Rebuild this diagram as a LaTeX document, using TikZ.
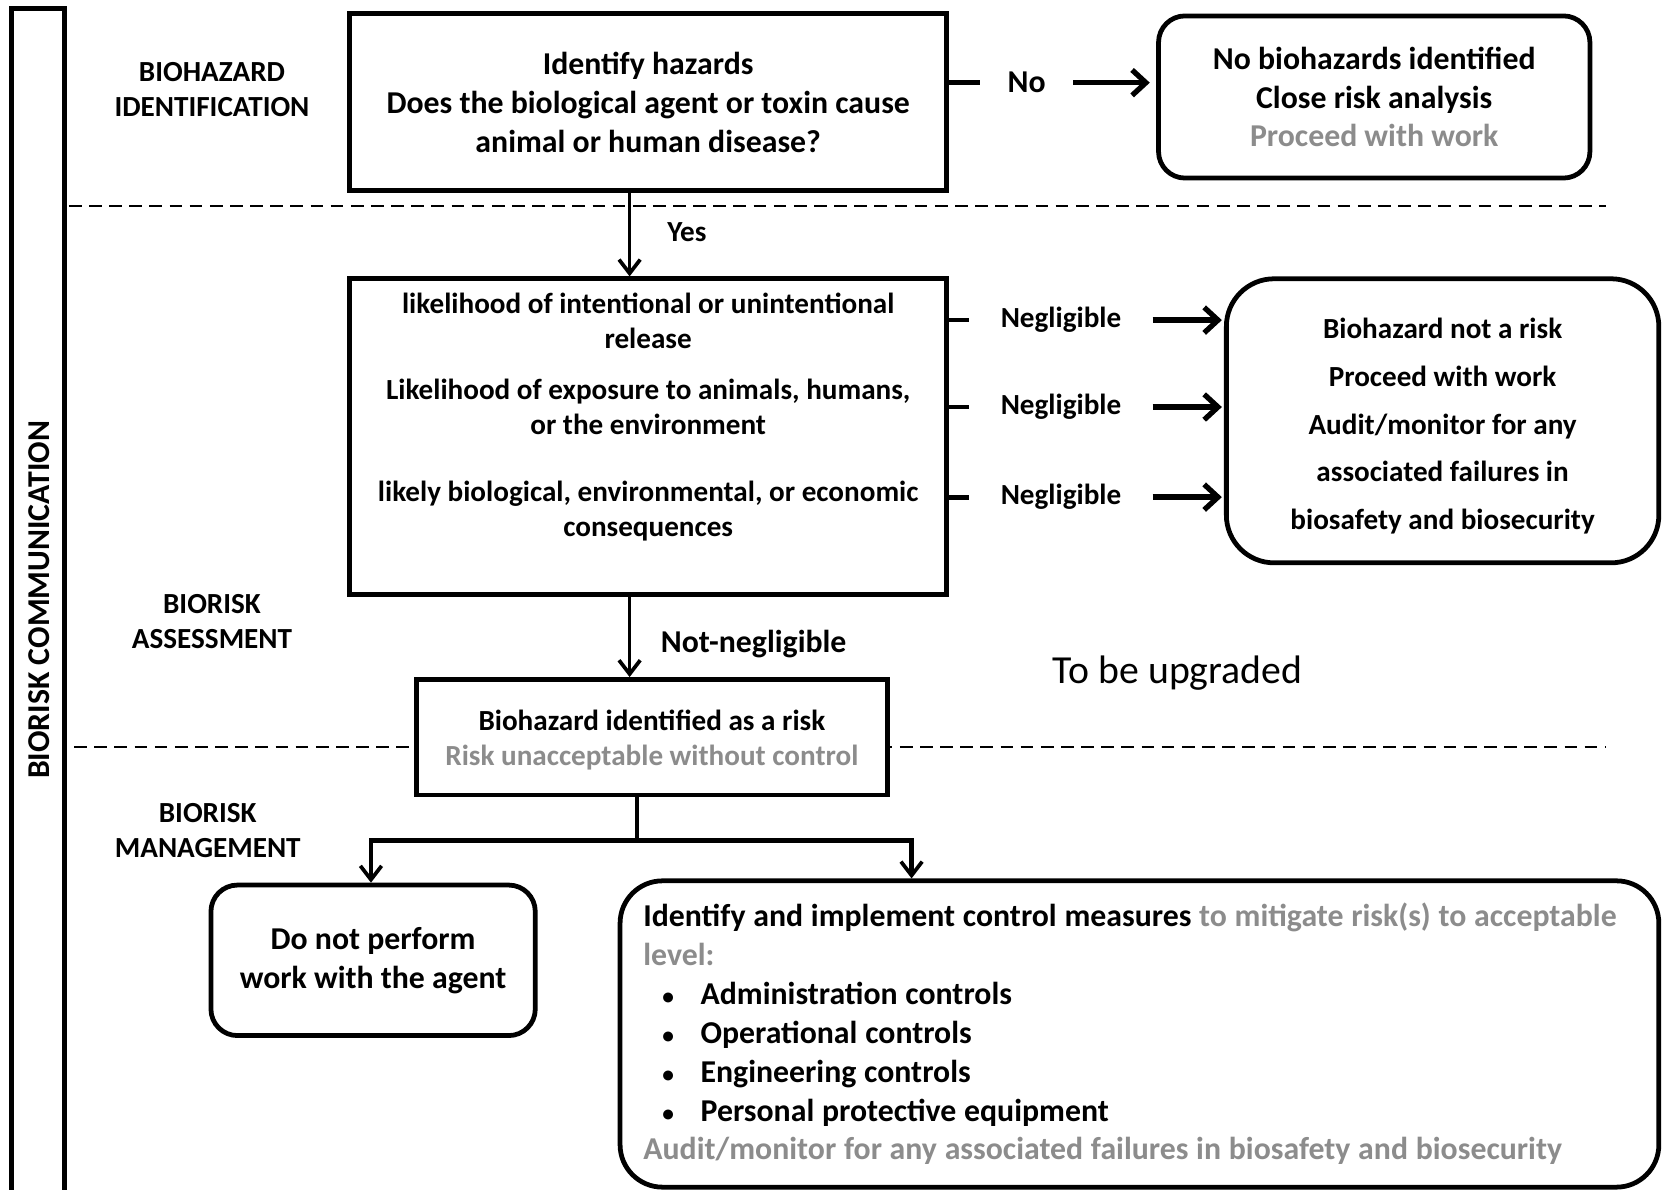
\documentclass[tikz,border=0pt]{standalone}
\usepackage{fontspec}
\setmainfont{Carlito}
\usepackage{xcolor}
\usetikzlibrary{arrows.meta,positioning}
\definecolor{dimgrey}{HTML}{8C8C8C}
\newcommand\txtbig{\fontsize{30}{36.7}\selectfont\bfseries}
\newcommand\txtmid{\fontsize{27.5}{33}\selectfont\bfseries}
\newcommand\dotitem{\hspace*{18pt}\makebox[36pt][l]{\fontsize{22}{22}\selectfont•}}

\begin{document}
\begin{tikzpicture}[x=1pt,y=-1pt,>={Straight Barb[length=13pt,width=20pt,line width=3.5pt]}]
\tikzset{sqbox/.style={draw,line width=4.5pt,fill=white,align=center,inner sep=0pt},
  rbox/.style={sqbox,rounded corners=#1},rbox/.default=25pt,
  section/.style={align=center,font=\txtmid},
  tag/.style={font=\txtmid,inner ysep=0pt},
  flow/.style={line width=3.5pt,->},
  sideflow/.style={line width=5pt,-{Straight Barb[length=13pt,width=24pt,line width=5pt]}},
  stub/.style={line width=4.5pt},
  sep/.style={line width=2pt,dash pattern=on 12pt off 7pt}}
\useasboundingbox (0,0) rectangle (1568,1122);
% stage separators
\draw[sep] (65,194) -- (1515,194);
\draw[sep] (70,705) -- (1515,705);
% communication bar
\node[draw,line width=4.5pt,minimum width=50pt,minimum height=1126pt,inner sep=0pt] (bar) at (36,571) {};
\node[rotate=90,font=\txtbig] (comm) at (37,566) {BIORISK COMMUNICATION};
\node[section] (idlbl) at (200,84.5) {BIOHAZARD\\IDENTIFICATION};
\node[section] (aslbl) at (200,586) {BIORISK\\ASSESSMENT};
\node[section] (mglbl) at (196,784) {BIORISK\\MANAGEMENT};
% identification
\node[sqbox,minimum width=563pt,minimum height=167pt,font=\txtbig] (hazard) at (611.5,96.5)
  {Identify hazards\\Does the biological agent or toxin cause\\animal or human disease?};
\node[rbox,minimum width=407pt,minimum height=153pt,font=\txtbig] (nobio) at (1296.5,91.5)
  {No biohazards identified\\Close risk analysis\\\textcolor{dimgrey}{Proceed with work}};
\node[font=\txtbig,inner xsep=26pt,inner ysep=0pt] (nolbl) at (968.5,78) {No};
\draw[stub] (hazard.east |- nolbl) -- (nolbl.west);
\draw[sideflow,shorten >=6pt] (nolbl.east) -- (nobio.west |- nolbl);
% assessment
\node[sqbox,minimum width=563pt,minimum height=298pt] (assess) at (611.5,412) {};
\node[font=\txtmid,align=center,anchor=north,inner sep=0pt] (assesstxt) at (611.5,276.5)
  {likelihood of intentional or unintentional\\release\\[15pt]Likelihood of exposure to animals, humans,\\or the environment\\[30pt]likely biological, environmental, or economic\\consequences};
\draw[flow] ([xshift=-17.5pt]hazard.south) -- ([xshift=-17.5pt]assess.north);
\node[tag] (yes) at (648,219) {Yes};
\node[rbox=45pt,minimum width=408pt,minimum height=268pt] (notrisk) at (1361,397) {};
\node[font=\fontsize{27.5}{45}\selectfont\bfseries,align=center,inner sep=0pt] (notrisktxt) at (1361,402)
  {Biohazard not a risk\\Proceed with work\\Audit/monitor for any\\associated failures in\\biosafety and biosecurity};
\foreach \yy/\nm in {302/negA,384/negB,469/negC} {
  \node[tag,inner xsep=29.5pt] (\nm) at (1001,\yy) {Negligible};
  \draw[stub] (assess.east |- \nm) -- (\nm.west);
  \draw[sideflow,shorten >=2pt] (\nm.east) -- (notrisk.west |- \nm);
}
\node[sqbox,minimum width=444pt,minimum height=109pt] (identrisk) at (615,695.5) {};
\node[font=\txtmid,align=center,inner sep=0pt] (identrisktxt) at (615,698.5)
  {Biohazard identified as a risk\\\textcolor{dimgrey}{Risk unacceptable without control}};
\draw[flow] ([xshift=-17.5pt]assess.south) -- ([xshift=-17.5pt]assess.south |- identrisk.north);
\node[font=\txtbig] (notneg) at (711,608) {Not-negligible};
\node[font=\fontsize{37.5}{45}\selectfont] (upgrade) at (1111,635) {To be upgraded};
% management
\node[rbox,minimum width=306pt,minimum height=142pt,font=\txtbig] (donot) at (352,906)
  {Do not perform\\work with the agent};
\node[rbox=40pt,minimum width=980pt,minimum height=289pt,font=\txtbig,align=left,text width=936pt] (controls) at (1075,975.5)
  {\spaceskip=7.3pt
   \mbox{Identify and implement control measures \textcolor{dimgrey}{to mitigate risk(s) to acceptable}}\\
   \textcolor{dimgrey}{level:}\\
   \dotitem Administration controls\\
   \dotitem Operational controls\\
   \dotitem Engineering controls\\
   \dotitem Personal protective equipment\\
   \mbox{\textcolor{dimgrey}{Audit/monitor for any associated failures in biosafety and biosecurity}}};
\coordinate (fork) at (601,793);
\draw[stub] (identrisk.south -| fork) -- (fork);
\draw[flow,line width=4.5pt] (fork) -| ([xshift=-2pt]donot.north);
\draw[flow,line width=4.5pt] (fork) -| ([xshift=-215pt]controls.north);
\end{tikzpicture}
\end{document}
